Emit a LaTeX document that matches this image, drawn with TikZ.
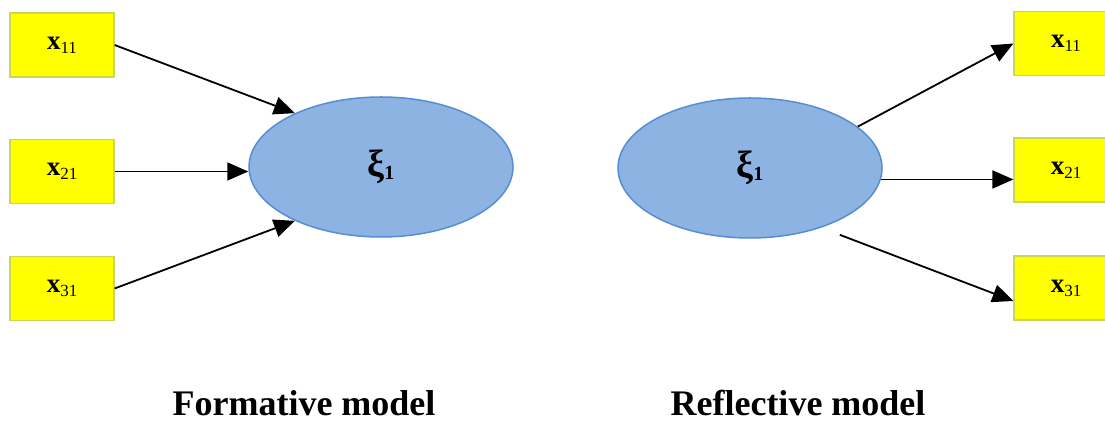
\documentclass[tikz,border=0pt]{standalone}
\usepackage{fontspec}
\setmainfont{Liberation Serif}
\usetikzlibrary{arrows.meta,shapes.geometric}

\definecolor{boxyellow}{RGB}{255,255,0}
\definecolor{boxedge}{RGB}{200,215,90}
\definecolor{ellfill}{RGB}{141,179,226}
\definecolor{elledge}{RGB}{85,142,213}

\newcommand{\indic}[1]{{\fontsize{27}{27}\selectfont\bfseries x}\raisebox{-4pt}{\fontsize{17}{17}\selectfont #1}}
\newcommand{\latent}{\raisebox{4pt}{{\fontsize{38}{38}\selectfont\bfseries ξ}\raisebox{-3pt}{\fontsize{20}{20}\selectfont\bfseries 1}}}

\tikzset{
  indicator/.style={draw=boxedge, line width=1.2pt, fill=boxyellow, minimum width=104pt, minimum height=64pt, inner sep=0pt},
  construct/.style={ellipse, draw=elledge, line width=1.5pt, fill=ellfill, minimum width=264pt, minimum height=140pt, inner sep=0pt},
  arr/.style={line width=1.8pt, -{Triangle[length=21pt,width=18pt]}},
  modelname/.style={anchor=base, font=\fontsize{36}{36}\selectfont\bfseries}
}

\begin{document}
\begin{tikzpicture}[x=1pt, y=1pt]
        \useasboundingbox (0,0) rectangle (1105,425);

        % Formative model
        \node[indicator] (fx11) at (62,380) {\indic{11}};
        \node[indicator] (fx21) at (62,253.5) {\indic{21}};
        \node[indicator] (fx31) at (62,136.5) {\indic{31}};
        \node[construct] (fxi) at (381,258) {\latent};

        \draw[arr] (fx11.east) -- (fxi.148);
        \draw[arr] (fx21.east) -- (fxi.west |- fx21.east);
        \draw[arr] (fx31.east) -- (fxi.212);

        % Reflective model
        \node[construct] (rxi) at (750,257) {\latent};
        \node[indicator] (rx11) at (1066,381.5) {\indic{11}};
        \node[indicator] (rx21) at (1066,255) {\indic{21}};
        \node[indicator] (rx31) at (1066,137) {\indic{31}};

        \draw[arr] (rxi.21) -- (rx11.west);
        \draw[arr] (rxi.-5) -- (rxi.-5 -| rx21.west);
        \draw[arr, shorten <=20pt] (rxi.-40) -- ([yshift=-13pt]rx31.west);

        % Captions
        \node[modelname] (fname) at (304,9) {Formative model};
        \node[modelname] (rname) at (798,9) {Reflective model};
\end{tikzpicture}
\end{document}
